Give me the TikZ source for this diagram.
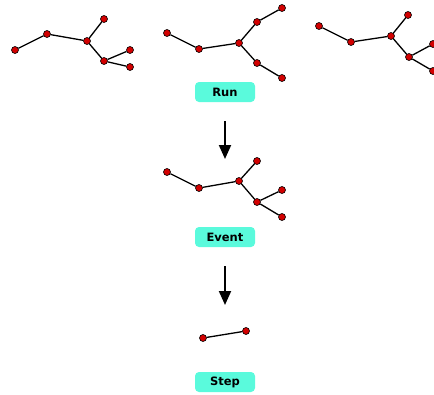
\documentclass[tikz,border=0pt]{standalone}
\usepackage{fontspec}
\setmainfont{DejaVu Sans}
\usetikzlibrary{arrows.meta}
\definecolor{vtxred}{RGB}{210,0,0}
\definecolor{lblaqua}{RGB}{90,250,220}
\begin{document}
\begin{tikzpicture}[x=1pt,y=-1pt,
  vtx/.style={circle,draw=black,fill=vtxred,line width=0.6pt,inner sep=0pt,minimum size=7pt},
  lbl/.style={fill=lblaqua,rounded corners=4pt,minimum width=60pt,minimum height=20pt,inner sep=0pt,font=\bfseries\fontsize{11.5}{13}\selectfont},
  edge/.style={line width=1.3pt},
  flow/.style={line width=2pt,-{Triangle[length=14pt,width=12pt]}}]
\useasboundingbox (0,0) rectangle (434,394);
% first run tree
\node[vtx] (r1a) at (15,50) {};
\node[vtx] (r1b) at (47,34) {};
\node[vtx] (r1c) at (87,41) {};
\node[vtx] (r1d) at (104,19) {};
\node[vtx] (r1e) at (104,61) {};
\node[vtx] (r1f) at (130,50) {};
\node[vtx] (r1g) at (130,67) {};
% second run tree
\node[vtx] (r2a) at (167,33) {};
\node[vtx] (r2b) at (199,49) {};
\node[vtx] (r2c) at (239,43) {};
\node[vtx] (r2d) at (257,22) {};
\node[vtx] (r2e) at (282,8) {};
\node[vtx] (r2f) at (257,63) {};
\node[vtx] (r2g) at (282,78) {};
% third run tree
\node[vtx] (r3a) at (319,26) {};
\node[vtx] (r3b) at (351,42) {};
\node[vtx] (r3c) at (391,36) {};
\node[vtx] (r3d) at (408,15) {};
\node[vtx] (r3e) at (409,57) {};
\node[vtx] (r3f) at (433,44) {};
\node[vtx] (r3g) at (433,71) {};
% event tree
\node[vtx] (eva) at (167,172) {};
\node[vtx] (evb) at (199,188) {};
\node[vtx] (evc) at (239,181) {};
\node[vtx] (evd) at (257,161) {};
\node[vtx] (eve) at (257,202) {};
\node[vtx] (evf) at (282,190) {};
\node[vtx] (evg) at (282,217) {};
% step
\node[vtx] (sta) at (203,338) {};
\node[vtx] (stb) at (246,331) {};
% labels
\node[lbl] (run) at (225,92) {Run};
\node[lbl] (event) at (225,237) {Event};
\node[lbl] (step) at (225,382) {Step};
\coordinate (a1s) at (225,121);
\coordinate (a1e) at (225,159);
\coordinate (a2s) at (225,266);
\coordinate (a2e) at (225,305);
\draw[edge] (r1a) to (r1b);
\draw[edge] (r1b) to (r1c);
\draw[edge] (r1c) to (r1d);
\draw[edge] (r1c) to (r1e);
\draw[edge] (r1e) to (r1f);
\draw[edge] (r1e) to (r1g);
\draw[edge] (r2a) to (r2b);
\draw[edge] (r2b) to (r2c);
\draw[edge] (r2c) to (r2d);
\draw[edge] (r2d) to (r2e);
\draw[edge] (r2c) to (r2f);
\draw[edge] (r2f) to (r2g);
\draw[edge] (r3a) to (r3b);
\draw[edge] (r3b) to (r3c);
\draw[edge] (r3c) to (r3d);
\draw[edge] (r3c) to (r3e);
\draw[edge] (r3e) to (r3f);
\draw[edge] (r3e) to (r3g);
\draw[edge] (eva) to (evb);
\draw[edge] (evb) to (evc);
\draw[edge] (evc) to (evd);
\draw[edge] (evc) to (eve);
\draw[edge] (eve) to (evf);
\draw[edge] (eve) to (evg);
\draw[edge] (sta) to (stb);
\draw[flow] (a1s) to (a1e);
\draw[flow] (a2s) to (a2e);
\end{tikzpicture}
\end{document}
